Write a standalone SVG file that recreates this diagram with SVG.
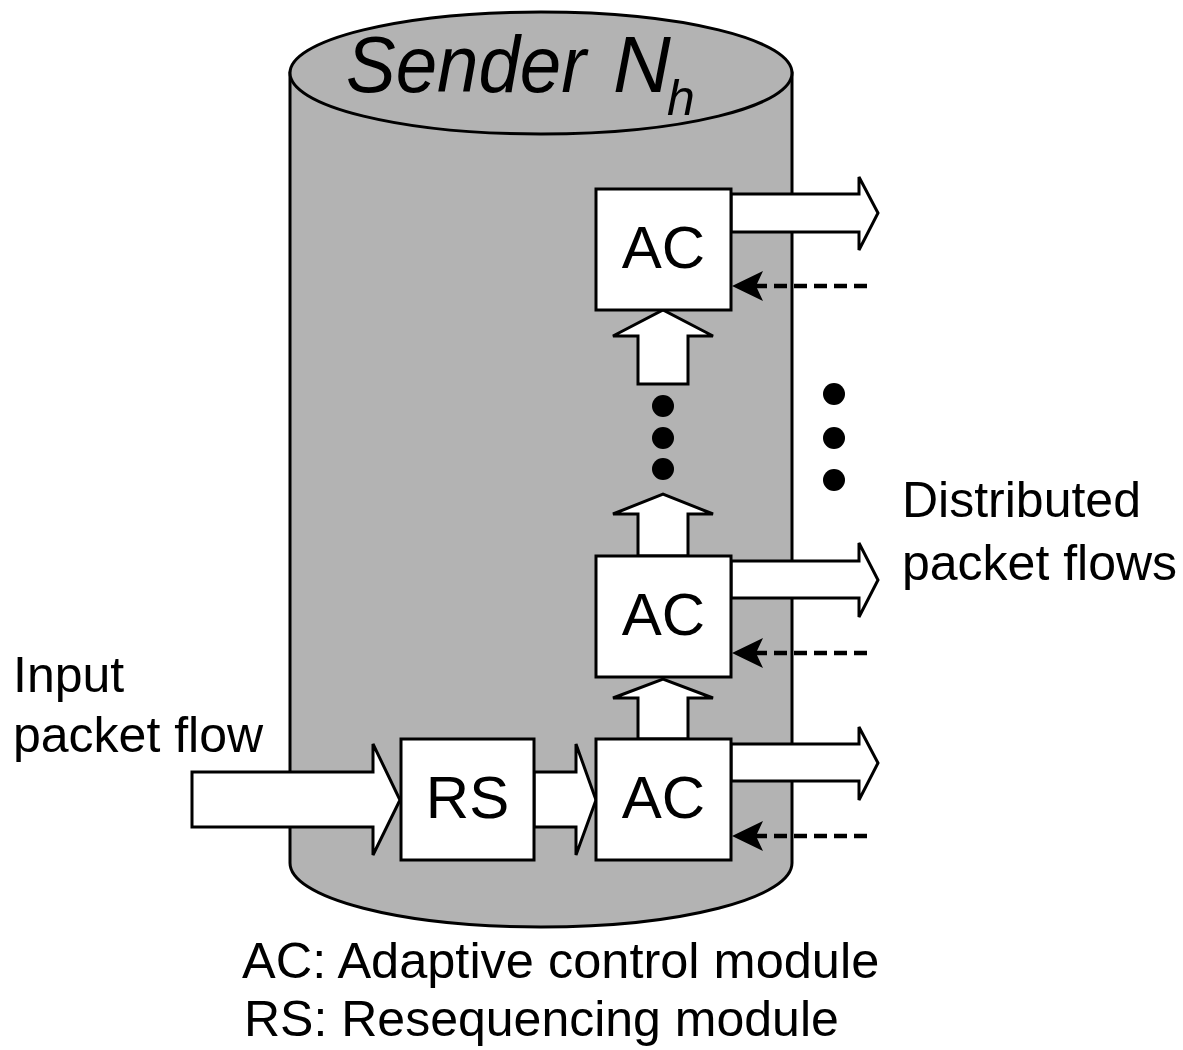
<svg xmlns="http://www.w3.org/2000/svg" width="1183" height="1050" viewBox="0 0 1183 1050">
<style>
.ln{stroke:#000;stroke-width:3;stroke-linejoin:miter}
.box{fill:#fff;stroke:#000;stroke-width:3}
.arr{fill:#fff;stroke:#000;stroke-width:3;stroke-linejoin:miter}
.t{font-family:"Liberation Sans",Arial,sans-serif;fill:#000}
.dash{stroke:#000;stroke-width:4.5;stroke-dasharray:13 7;fill:none}
.dot{fill:#000}
</style>
<rect x="0" y="0" width="1183" height="1050" fill="#fff"/>
<g id="sender">
<path d="M290,73 L290,863 A251,64 0 0 0 792,863 L792,73 Z" fill="#b3b3b3" class="ln"/>
<ellipse cx="541" cy="73" rx="251" ry="61" fill="#b3b3b3" class="ln"/>
<text class="t" x="346" y="92" font-size="80" font-style="italic" textLength="240" lengthAdjust="spacingAndGlyphs">Sender</text>
<text class="t" x="613" y="92" font-size="80" font-style="italic">N</text>
<text class="t" x="667" y="115" font-size="50" font-style="italic">h</text>
</g>
<g id="connectors">
<polygon class="arr" points="192,772 373,772 373,744 400,800 373,855 373,827 192,827"/>
<polygon class="arr" points="534,772 576,772 576,744 596,800 576,855 576,827 534,827"/>
<polygon class="arr" points="731,194 859,194 859,177 878,213 859,250 859,232 731,232"/>
<polygon class="arr" points="731,561 859,561 859,543 878,580 859,617 859,598 731,598"/>
<polygon class="arr" points="731,744 859,744 859,727 878,763 859,800 859,781 731,781"/>
<polygon class="arr" points="638,384 638,336 613,336 663,310 713,336 688,336 688,384"/>
<polygon class="arr" points="638,556 638,514 613,514 663,494 713,514 688,514 688,556"/>
<polygon class="arr" points="638,739 638,698 613,698 663,679 713,698 688,698 688,739"/>
<line class="dash" x1="867" y1="286" x2="755" y2="286"/>
<polygon points="732,286 763,271 756,286 763,301" fill="#000"/>
<line class="dash" x1="867" y1="653" x2="755" y2="653"/>
<polygon points="732,653 763,638 756,653 763,668" fill="#000"/>
<line class="dash" x1="867" y1="836" x2="755" y2="836"/>
<polygon points="732,836 763,821 756,836 763,851" fill="#000"/>
</g>
<g id="ac_top">
<rect class="box" x="596" y="189" width="135" height="121"/>
<text class="t" x="663.5" y="268" font-size="60" text-anchor="middle">AC</text>
</g>
<g id="ac_mid">
<rect class="box" x="596" y="556" width="135" height="121"/>
<text class="t" x="663.5" y="635" font-size="60" text-anchor="middle">AC</text>
</g>
<g id="ac_bot">
<rect class="box" x="596" y="739" width="135" height="121"/>
<text class="t" x="663.5" y="818" font-size="60" text-anchor="middle">AC</text>
</g>
<g id="rs">
<rect class="box" x="401" y="739" width="133" height="121"/>
<text class="t" x="467.5" y="818" font-size="60" text-anchor="middle">RS</text>
</g>
<g id="dots">
<circle class="dot" cx="663" cy="406" r="11"/>
<circle class="dot" cx="663" cy="438" r="11"/>
<circle class="dot" cx="663" cy="469" r="11"/>
<circle class="dot" cx="834" cy="394" r="11"/>
<circle class="dot" cx="834" cy="438" r="11"/>
<circle class="dot" cx="834" cy="480" r="11"/>
</g>
<g id="labels">
<text class="t" x="902" y="517" font-size="50">Distributed</text>
<text class="t" x="902" y="580" font-size="50">packet flows</text>
<text class="t" x="13" y="692" font-size="50">Input</text>
<text class="t" x="13" y="752" font-size="50">packet flow</text>
<text class="t" x="242" y="978" font-size="50.5">AC: Adaptive control module</text>
<text class="t" x="244" y="1036" font-size="50">RS: Resequencing module</text>
</g>
</svg>
